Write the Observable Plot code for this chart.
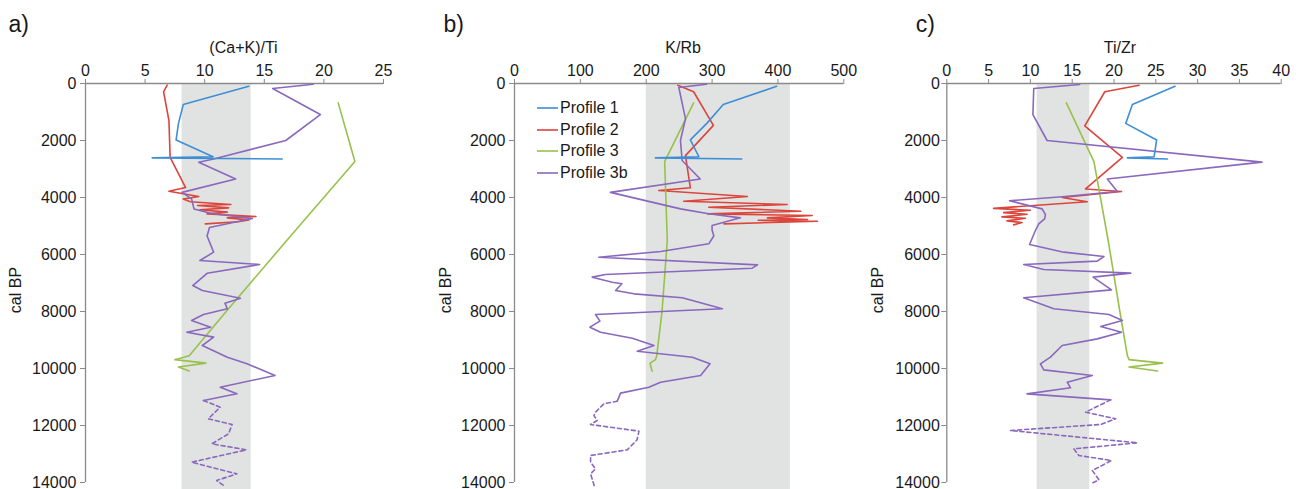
<!DOCTYPE html>
<html>
<head>
<meta charset="utf-8">
<script src="https://cdn.jsdelivr.net/npm/d3@7"></script>
<script src="https://cdn.jsdelivr.net/npm/@observablehq/plot@0.6"></script>
<style>
  html, body { margin: 0; padding: 0; background: #fff; }
  body { font-family: "Liberation Sans", Arial, sans-serif; color: #1a1a1a; }
  #wrap { position: relative; width: 1306px; height: 489px; overflow: hidden; }
  .panel { position: absolute; top: 0; }
  #legend { position: absolute; left: 537px; top: 97px; font-size: 16px; line-height: 21.7px; }
  #legend .row { display: flex; align-items: center; height: 21.7px; white-space: nowrap; }
  #legend svg { margin-right: 2px; }
</style>
</head>
<body>
<div id="wrap"></div>
<script>
// ---------- data ----------
const seriesNames = ["Profile 1", "Profile 2", "Profile 3", "Profile 3b"];
const seriesColors = ["#3e8ed6", "#dc453b", "#98c14c", "#8a68bd"];

const xTicksA = [0, 5, 10, 15, 20, 25];
const xTicksB = [0, 100, 200, 300, 400, 500];
const xTicksC = [0, 5, 10, 15, 20, 25, 30, 35, 40];
const yTicks = [0, 2000, 4000, 6000, 8000, 10000, 12000, 14000];

// shaded ranges
const bandA = [8.1, 13.9];
const bandB = [200, 419];
const bandC = [10.8, 17.1];

// Profile 1 (shared depths)
const depthP1 = [100, 740, 1400, 1980, 2570, 2610, 2650];
const caKTi_P1 = [13.7, 8.2, 7.8, 7.6, 10.7, 5.6, 16.5];
const kRb_P1 = [398, 317, 292, 267, 280, 214, 345];
const tiZr_P1 = [27.3, 22.2, 21.4, 25.1, 24.8, 21.6, 26.4];

// Profile 3 (shared depths)
const depthP3 = [680, 2740, 5500, 8000, 9550, 9690, 9810, 9950, 10090];
const caKTi_P3 = [21.2, 22.6, 16.9, 11.8, 8.7, 7.5, 10.1, 7.8, 8.7];
const kRb_P3 = [272, 228, 232, 224, 216, 214, 206, 207, 209];
const tiZr_P3 = [14.3, 17.6, 19.3, 20.7, 21.6, 21.8, 25.8, 21.8, 25.2];

// Profile 2
const depthP2_a = [60, 290, 1300, 2590, 3650, 3780, 3965, 4050, 4150, 4246, 4280, 4363, 4430, 4514, 4573, 4667, 4714, 4784, 4850, 4924];
const caKTi_P2 = [6.85, 6.55, 7.0, 7.1, 8.4, 7.0, 9.5, 8.2, 8.8, 12.2, 9.4, 12.0, 9.6, 11.9, 10.2, 14.3, 11.9, 13.7, 12.8, 10.05];
const depthP2_b = [60, 290, 1470, 2530, 3660, 3754, 3965, 4130, 4246, 4340, 4480, 4573, 4632, 4714, 4770, 4800, 4832, 4924];
const kRb_P2 = [248, 272, 302, 259.6, 267, 219, 353.6, 257, 414, 295, 434.7, 293, 452, 384, 445, 370, 460, 318];
const depthP2_c = [60, 290, 1490, 2590, 3700, 3790, 4000, 4150, 4380, 4450, 4530, 4590, 4680, 4730, 4820, 4880, 4960];
const tiZr_P2 = [23.0, 18.9, 16.5, 21.0, 16.6, 20.9, 13.8, 16.8, 5.6, 10.0, 6.8, 9.6, 6.6, 9.4, 7.2, 9.0, 8.0];

// Profile 3b (dashed below ~11150 cal BP)
const solidEnd = 11150;
const depthP3b_a = [25, 175, 1090, 2000, 2650, 2760, 3350, 3820, 4050, 4400, 4550, 4740, 5050, 5350, 5918, 6210, 6350, 6660, 7090, 7263, 7532, 7708, 7906, 8105, 8316, 8550, 8725, 8900, 9193, 9603, 9836, 10245, 10655, 10889, 11123, 11357, 11766, 11965, 12292, 12643, 12854, 13287, 13696, 13930, 14105];
const caKTi_P3b = [19.1, 15.7, 19.7, 16.8, 10.75, 9.5, 12.6, 8.1, 8.9, 9.1, 10.5, 14.0, 10.4, 10.2, 10.75, 9.6, 14.6, 10.2, 9.0, 9.8, 13.0, 11.7, 11.9, 9.9, 8.9, 10.5, 8.5, 10.75, 9.8, 11.9, 13.55, 15.9, 11.3, 12.7, 9.9, 11.3, 10.3, 12.3, 12.0, 10.6, 13.5, 8.9, 12.7, 11.0, 11.6];
const depthP3b_b = [25, 140, 1235, 2000, 2700, 3350, 3820, 4400, 4573, 4714, 4982, 5140, 5350, 5625, 5895, 6094, 6363, 6480, 6700, 6795, 6971, 7029, 7263, 7380, 7520, 7906, 8105, 8339, 8550, 8725, 8936, 9193, 9392, 9603, 9836, 10245, 10480, 10655, 10865, 11146, 11240, 11532, 11649, 11825, 11965, 12199, 12503, 12854, 13053, 13287, 13520, 13696, 14105];
const kRb_P3b = [291.5, 249.5, 259.6, 252, 254.5, 282, 145.7, 252, 295, 343, 300, 300, 302.6, 295, 222, 128, 369, 361, 138, 118, 148.5, 163, 153.5, 181.3, 254.8, 315.6, 123, 129.7, 114.5, 130.7, 178.9, 211.8, 186.4, 270, 296.8, 282.6, 221.8, 204, 161, 156, 135.7, 123, 120.6, 125.6, 115.5, 189, 186, 171.2, 115.5, 115.5, 123, 115.5, 121];
const depthP3b_c = [35, 175, 1090, 2000, 2760, 3350, 3790, 3976, 4116, 4400, 4600, 4750, 4924, 5158, 5650, 5918, 6070, 6234, 6350, 6526, 6655, 6795, 7240, 7520, 7906, 8105, 8316, 8526, 8725, 8960, 9193, 9603, 9836, 10047, 10245, 10480, 10678, 10889, 11100, 11532, 11766, 11965, 12175, 12608, 12818, 13053, 13228, 13579, 13906, 14047];
const tiZr_P3b = [15.9, 10.4, 10.3, 12.0, 37.7, 19.2, 20.4, 13.8, 7.5, 11.4, 11.8, 11.7, 11.0, 10.6, 9.9, 14.0, 18.8, 18.0, 9.2, 11.6, 22.0, 17.5, 19.7, 9.2, 12.8, 19.4, 21.0, 18.4, 20.9, 18.0, 13.8, 12.4, 11.2, 11.6, 17.4, 14.4, 14.8, 9.6, 19.6, 16.6, 20.2, 18.4, 7.6, 22.8, 15.2, 15.8, 19.7, 17.4, 18.2, 17.2];

// ---------- helpers ----------
const mk = (ds, vs) => ds.map((d, i) => ({d, v: vs[i]}));
const FONT = "Liberation Sans, Arial, Helvetica, sans-serif";
const AXIS = "#8a8a8a";
const TEXT = "#1a1a1a";
const BAND_BOTTOM = 14250;

function panel(cfg) {
  const p1 = mk(depthP1, cfg.p1);
  const p2 = mk(cfg.p2d, cfg.p2);
  const p3 = mk(depthP3, cfg.p3);
  const p3b = mk(cfg.p3bd, cfg.p3b);
  const lastSolid = p3b.filter(o => o.d <= solidEnd).length - 1;
  const p3bSolid = p3b.slice(0, lastSolid + 1);
  const p3bDash = p3b.slice(lastSolid);
  const lw = 1.6;
  return Plot.plot({
    width: cfg.width,
    height: 489,
    marginTop: 83,
    marginBottom: 7,
    marginLeft: cfg.ml,
    marginRight: cfg.mr,
    style: {fontFamily: FONT, fontSize: "16px", color: TEXT, background: "transparent", overflow: "visible"},
    x: {domain: [cfg.ticks[0], cfg.ticks[cfg.ticks.length - 1]], axis: null},
    y: {domain: [0, 14000], reverse: true, axis: null},
    marks: [
      Plot.rect([cfg.band], {x1: d => d[0], x2: d => d[1], y1: 0, y2: BAND_BOTTOM, fill: "#e1e3e3"}),
      Plot.ruleY([0], {stroke: AXIS, strokeWidth: 1.3}),
      Plot.ruleX([cfg.ticks[0]], {y1: 0, y2: 14000, stroke: AXIS, strokeWidth: 1.3}),
      Plot.axisX({anchor: "top", ticks: cfg.ticks, tickSize: 5, tickPadding: 3, stroke: AXIS, fill: TEXT, fontSize: 16, label: null, tickFormat: d => String(d)}),
      Plot.axisY({anchor: "left", ticks: yTicks, tickSize: 5, tickPadding: cfg.ypad, stroke: AXIS, fill: TEXT, fontSize: 16, label: null, tickFormat: d => String(d)}),
      Plot.line(p2, {x: "v", y: "d", stroke: seriesColors[1], strokeWidth: lw}),
      Plot.line(p3, {x: "v", y: "d", stroke: seriesColors[2], strokeWidth: lw}),
      Plot.line(p3bSolid, {x: "v", y: "d", stroke: seriesColors[3], strokeWidth: lw}),
      Plot.line(p3bDash, {x: "v", y: "d", stroke: seriesColors[3], strokeWidth: lw, strokeDasharray: "4,3"}),
      Plot.line(p1, {x: "v", y: "d", stroke: seriesColors[0], strokeWidth: lw}),
      Plot.text([cfg.title], {frameAnchor: "top", lineAnchor: "middle", textAnchor: "middle", dx: cfg.titleDx, dy: -36, fontSize: 16, fill: TEXT}),
      Plot.text([cfg.tag], {frameAnchor: "top-left", lineAnchor: "middle", textAnchor: "start", dx: cfg.tagDx, dy: -59, fontSize: 23, fill: TEXT}),
      Plot.text(["cal BP"], {frameAnchor: "left", lineAnchor: "middle", textAnchor: "middle", rotate: -90, dx: cfg.ylabDx, dy: 7, fontSize: 16, fill: TEXT})
    ]
  });
}

const wrap = document.getElementById("wrap");
const panels = [
  {left: 0, width: 435, ml: 85, mr: 52, ticks: xTicksA, band: bandA, title: "(Ca+K)/Ti", titleDx: 9, tag: "a)", tagDx: -77, ylabDx: -70, ypad: 4,
   p1: caKTi_P1, p2d: depthP2_a, p2: caKTi_P2, p3: caKTi_P3, p3bd: depthP3b_a, p3b: caKTi_P3b},
  {left: 430, width: 440, ml: 84, mr: 26.7, ticks: xTicksB, band: bandB, title: "K/Rb", titleDx: 4, tag: "b)", tagDx: -71, ylabDx: -69, ypad: 4,
   p1: kRb_P1, p2d: depthP2_b, p2: kRb_P2, p3: kRb_P3, p3bd: depthP3b_b, p3b: kRb_P3b},
  {left: 870, width: 436, ml: 76.3, mr: 25.3, ticks: xTicksC, band: bandC, title: "Ti/Zr", titleDx: 6, tag: "c)", tagDx: -31, ylabDx: -69, ypad: 2,
   p1: tiZr_P1, p2d: depthP2_c, p2: tiZr_P2, p3: tiZr_P3, p3bd: depthP3b_c, p3b: tiZr_P3b}
];
for (const cfg of panels) {
  const div = document.createElement("div");
  div.className = "panel";
  div.style.left = cfg.left + "px";
  div.appendChild(panel(cfg));
  wrap.appendChild(div);
}

// legend
const legend = document.createElement("div");
legend.id = "legend";
seriesNames.forEach((name, i) => {
  const row = document.createElement("div");
  row.className = "row";
  row.innerHTML = `<svg width="21" height="4"><line x1="0" y1="2" x2="21" y2="2" stroke="${seriesColors[i]}" stroke-width="1.6"/></svg><span>${name}</span>`;
  legend.appendChild(row);
});
wrap.appendChild(legend);
</script>
</body>
</html>
